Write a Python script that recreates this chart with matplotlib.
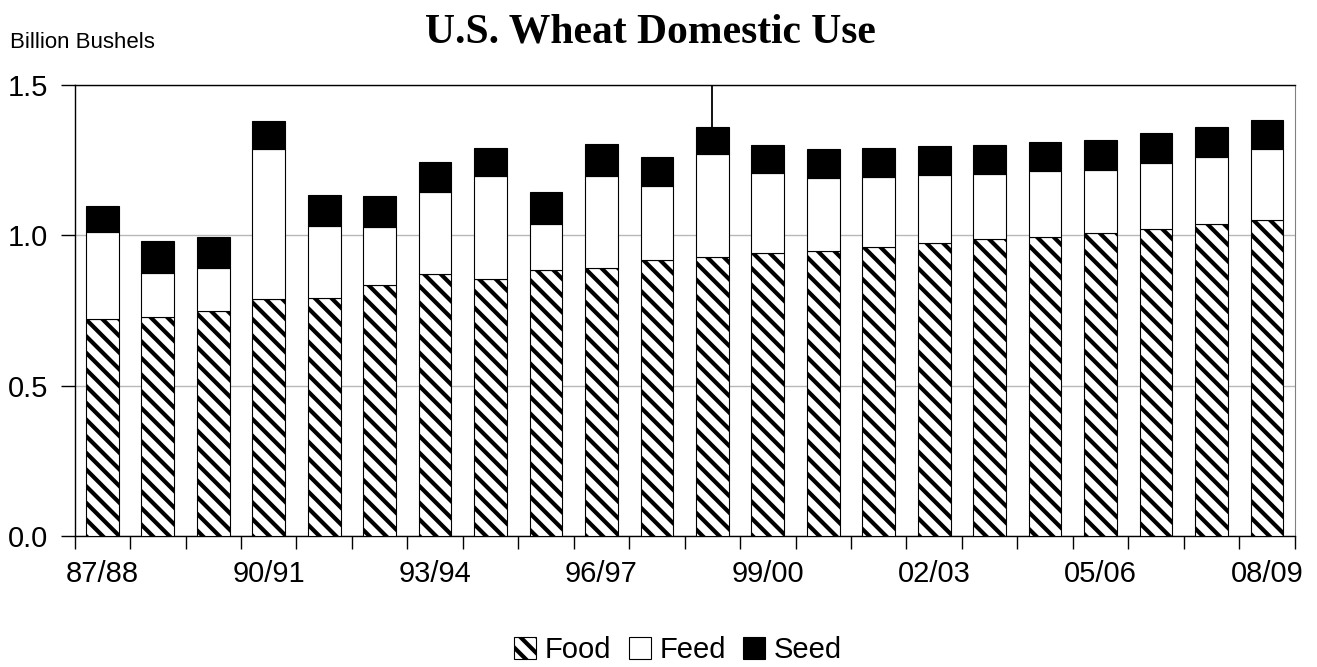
import matplotlib
matplotlib.use("Agg")
import matplotlib.pyplot as plt
import numpy as np

years = ["87/88", "88/89", "89/90", "90/91", "91/92", "92/93", "93/94", "94/95",
         "95/96", "96/97", "97/98", "98/99", "99/00", "00/01", "01/02", "02/03",
         "03/04", "04/05", "05/06", "06/07", "07/08", "08/09"]

# billion bushels
food = [0.722, 0.727, 0.749, 0.787, 0.791, 0.835, 0.872, 0.855, 0.885, 0.890, 0.918,
        0.927, 0.940, 0.949, 0.962, 0.973, 0.987, 0.995, 1.009, 1.022, 1.037, 1.050]
feed = [0.288, 0.148, 0.142, 0.499, 0.239, 0.193, 0.271, 0.342, 0.152, 0.308, 0.245,
        0.344, 0.266, 0.241, 0.231, 0.227, 0.217, 0.217, 0.207, 0.219, 0.223, 0.236]
seed = [0.087, 0.106, 0.103, 0.092, 0.102, 0.102, 0.100, 0.092, 0.105, 0.106, 0.096,
        0.090, 0.094, 0.096, 0.096, 0.097, 0.097, 0.097, 0.100, 0.098, 0.099, 0.097]

yticks = [0.0, 0.5, 1.0, 1.5]
label_every = 3

plt.rcParams['font.family'] = ['Liberation Sans', 'DejaVu Sans']
plt.rcParams['hatch.linewidth'] = 3.0
plt.rcParams['hatch.color'] = 'black'

fig = plt.figure(figsize=(13.17, 6.67), dpi=100)
ax = fig.add_axes([0.0567, 0.196, 0.9263, 0.677])

x = np.arange(len(years))
food = np.array(food)
feed = np.array(feed)
seed = np.array(seed)
w = 0.59

b1 = ax.bar(x, food, w, color='white', edgecolor='black', linewidth=0.8,
            hatch='\\\\', label='Food', zorder=3)
b2 = ax.bar(x, feed, w, bottom=food, color='white', edgecolor='black',
            linewidth=0.8, label='Feed', zorder=3)
b3 = ax.bar(x, seed, w, bottom=food + feed, color='black', edgecolor='black',
            linewidth=0.8, label='Seed', zorder=3)

# odd drop line above the 98/99 bar
totals = food + feed + seed
ax.vlines(11, totals[11], yticks[-1], color='black', lw=1.3, zorder=4)

ax.set_xlim(-0.5, len(years) - 0.5)
ax.set_ylim(0, 1.5)
ax.set_yticks(yticks)
ax.set_yticklabels(["%.1f" % v for v in yticks])
ax.yaxis.grid(True, color='#b8b8b8', lw=1)
ax.set_axisbelow(True)

ax.set_xticks(np.arange(-0.5, len(years)))
ax.set_xticklabels([])
ax.set_xticks(x[::label_every], minor=True)
ax.set_xticklabels(years[::label_every], minor=True)
ax.tick_params(axis='x', which='major', direction='out', length=9, width=1)
ax.tick_params(axis='x', which='minor', length=0, pad=17, labelsize=21)
ax.tick_params(axis='y', direction='out', length=10, width=1, pad=9, labelsize=21)

for s in ['left', 'bottom', 'top']:
    ax.spines[s].set_color('black')
    ax.spines[s].set_linewidth(1)
ax.spines['right'].set_color('#808080')

fig.text(0.4935, 0.937, "U.S. Wheat Domestic Use", ha='center', va='baseline',
         fontsize=30, fontweight='bold', family=['Liberation Serif', 'DejaVu Serif'])
fig.text(10 / 1317, 1 - 42 / 667, "Billion Bushels", ha='left', va='center', fontsize=16)

fig.legend(handles=[b1, b2, b3], loc='center', bbox_to_anchor=(678 / 1317, 1 - 650 / 667),
           ncol=3, frameon=False, fontsize=21, handlelength=0.75, handleheight=0.75,
           handletextpad=0.3, columnspacing=0.6, borderpad=0)

fig.savefig("out.png", dpi=100)
